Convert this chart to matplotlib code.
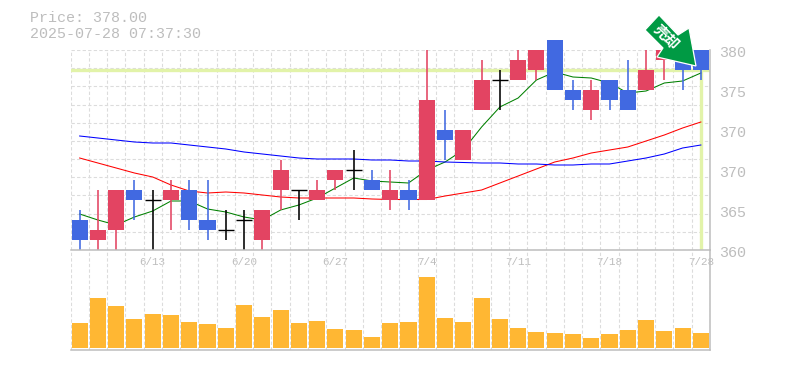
import numpy as np
import matplotlib
matplotlib.use("Agg")
import matplotlib.pyplot as plt
from matplotlib.patches import Polygon
from matplotlib.transforms import Affine2D

W, H = 785, 370
GRAY = "#bdbdbd"
GRID = "#dcdcdc"
RED = "#e34462"
BLUE = "#4169e1"
ORANGE = "#ffb733"
LIME = "#e2f3a9"

opens = [363, 361, 362, 366, 365, 365, 366, 363, 362, 363, 361, 366, 366, 365, 367, 368, 367, 365,
         366, 365, 372, 369, 374, 377, 377, 378, 381, 376, 374, 377, 376, 376, 379, 380, 380]
highs = [364, 366, 366, 367, 366, 367, 367, 367, 364, 364, 364, 369, 366, 367, 368, 370, 368, 368,
         367, 380, 374, 372, 379, 378, 380, 380, 381, 377, 377, 377, 379, 380, 380, 380, 380]
lows = [360, 360, 360, 363, 360, 362, 362, 361, 361, 360, 360, 364, 363, 365, 366, 366, 366, 364,
        364, 365, 369, 369, 374, 374, 377, 377, 376, 374, 373, 374, 374, 376, 377, 376, 377]
closes = [361, 362, 366, 365, 365, 366, 363, 362, 362, 363, 364, 368, 366, 366, 368, 368, 366, 366,
          365, 375, 371, 372, 377, 377, 379, 380, 376, 375, 376, 375, 374, 378, 380, 378, 378]

ma5 = [363.6, 363.0, 362.5, 363.3, 363.9, 364.9, 364.9, 364.1, 363.8, 363.3, 363.0, 364.0,
       364.5, 365.2, 366.2, 367.2, 366.9, 366.8, 366.7, 368.0, 368.8, 370.0, 372.3, 374.3,
       375.2, 377.0, 377.8, 377.3, 377.2, 376.7, 375.7, 375.9, 376.7, 376.9, 377.7]
ma25 = [369.2, 368.7, 368.2, 367.7, 367.3, 366.5, 365.9, 365.7, 365.8, 365.7, 365.5, 365.3,
        365.2, 365.2, 365.2, 365.2, 365.1, 365.05, 365.05, 365.05, 365.4, 365.7, 366.0, 366.7,
        367.4, 368.1, 368.8, 369.2, 369.7, 370.0, 370.3, 370.9, 371.5, 372.2, 372.8]
ma75 = [371.4, 371.2, 371.0, 370.8, 370.7, 370.7, 370.5, 370.3, 370.1, 369.8, 369.6, 369.4,
        369.2, 369.1, 369.1, 369.1, 369.0, 369.0, 368.9, 368.9, 368.8, 368.75, 368.7, 368.7,
        368.6, 368.6, 368.5, 368.5, 368.6, 368.6, 368.9, 369.2, 369.6, 370.2, 370.5]
volume = [25, 50, 42, 29, 34, 33, 26, 24, 20, 43, 31, 38, 25, 27, 19, 18, 11, 25,
          26, 71, 30, 26, 50, 29, 20, 16, 15, 14, 10, 14, 18, 28, 17, 20, 15]

price_ticks = [380, 376, 372, 368, 364, 360]
price_labels = ["380", "375", "370", "370", "365", "360"]
date_pos = [4, 9, 14, 19, 24, 29, 34]
date_labels = ["6/13", "6/20", "6/27", "7/4", "7/11", "7/18", "7/28"]
last_price = 378
last_idx = 34

plt.rcParams["font.family"] = ["Liberation Mono", "DejaVu Sans Mono"]
fig = plt.figure(figsize=(W / 100, H / 100), dpi=100)


def make_axes(left, top, right, bottom):
    return fig.add_axes([left / W, 1 - bottom / H, (right - left) / W, (bottom - top) / H])


ax = make_axes(70.5, 50, 710, 250)
vol = make_axes(70.5, 250, 710, 350)
x = np.arange(len(closes))
dash = (0, (3, 2))

for a in (ax, vol):
    a.set_xlim(-0.5, len(closes) - 0.5)
    a.set_xticks(np.arange(-0.5, len(closes)))
    a.tick_params(length=0, labelbottom=False, labelleft=False)
    a.grid(axis="x", color=GRID, lw=0.8, ls=dash)
    a.set_axisbelow(True)
    a.spines["top"].set_visible(False)
    a.spines["left"].set_visible(False)
    a.spines["right"].set_color(GRAY)
    a.spines["bottom"].set_color(GRAY)
    a.spines["right"].set_linewidth(1.1)
    a.spines["bottom"].set_linewidth(1.1)
    a.patch.set_alpha(0)

ax.set_ylim(360, 380)
ax.set_yticks(np.linspace(360, 380, 12))
ax.grid(axis="y", color=GRID, lw=0.8, ls=dash)

# last price markers
ax.axhline(last_price, color=LIME, lw=2.4, zorder=1.5)
ax.plot([last_idx, last_idx], [360, last_price], color=LIME, lw=2.4, zorder=1.5)

# moving averages sit under the candles
ax.plot(x, ma5, color="green", lw=0.75, zorder=1.8)
ax.plot(x, ma25, color="red", lw=0.75, zorder=1.8)
ax.plot(x, ma75, color="blue", lw=0.75, zorder=1.8)

for i in x:
    o, h, l, c = opens[i], highs[i], lows[i], closes[i]
    col = RED if c > o else BLUE if c < o else "black"
    ax.vlines(i, l, h, color=col, lw=1.15, zorder=2, clip_on=False)
    if c == o:
        ax.hlines(c, i - 0.44, i + 0.44, color=col, lw=1.0, zorder=2)
    else:
        ax.bar(i, abs(c - o), bottom=min(o, c), width=0.88, color=col, zorder=3, clip_on=False)

vol.set_ylim(-2, 98)
vol.set_yticks([])
vol.bar(x, volume, width=0.88, color=ORANGE, zorder=3)

for p, s in zip(price_ticks, price_labels):
    ax.annotate(s, (1, p), xycoords=ax.get_yaxis_transform(), xytext=(9, -3), textcoords="offset pixels",
                fontsize=10.8, color=GRAY, va="center", ha="left", annotation_clip=False)
for p, s in zip(date_pos, date_labels):
    ax.annotate(s, (p, 360), xytext=(0, -12), textcoords="offset pixels",
                fontsize=7.8, color=GRAY, va="center", ha="center", annotation_clip=False, zorder=5)

fig.text(30 / W, 1 - 18.5 / H, "Price: 378.00", fontsize=10.8, color=GRAY, va="center")
fig.text(30 / W, 1 - 33.5 / H, "2025-07-28 07:37:30", fontsize=10.8, color=GRAY, va="center")

# signal arrow, given in image pixels
px = Affine2D().scale(1, -1).translate(0, H)
arrow = Polygon([(659, 15), (678, 35), (689, 28), (696, 66), (657, 57), (663, 48), (645, 30)],
                closed=True, facecolor="#009a44", edgecolor="white", lw=0.9, transform=px, zorder=10)
fig.add_artist(arrow)
fig.text(666.5 / W, 1 - 36.5 / H, "売却", rotation=-45, rotation_mode="anchor", ha="center", va="center",
         color="white", fontsize=10.5, fontweight="bold", family=["Noto Sans CJK JP", "DejaVu Sans"], zorder=11)

fig.savefig("out.png", dpi=100)
